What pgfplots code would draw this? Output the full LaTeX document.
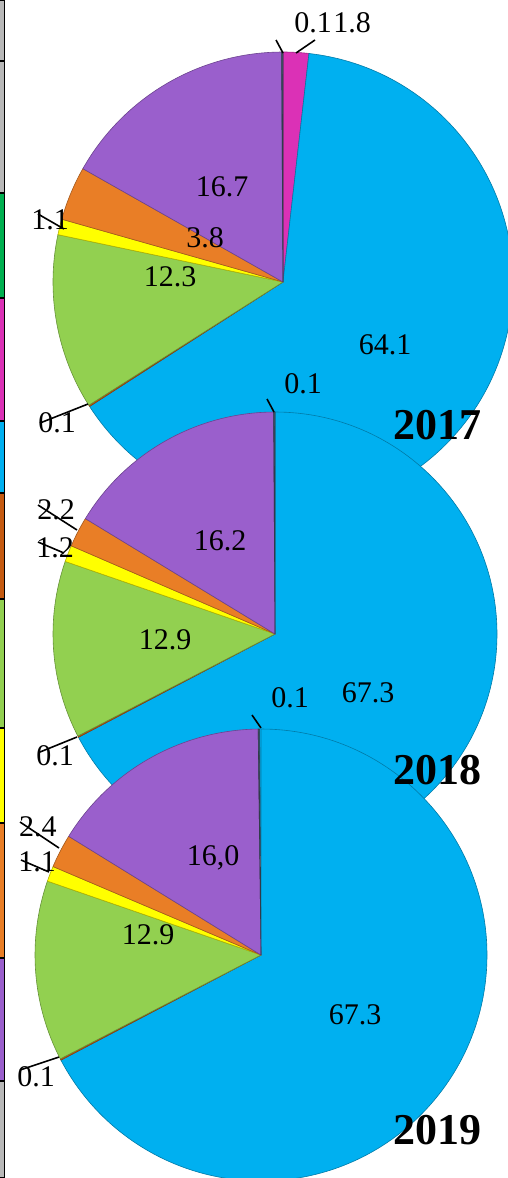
\documentclass[border=0pt]{standalone}
\usepackage{pgfplots}
\pgfplotsset{compat=1.18}
\usepackage{fontspec}
\setmainfont{Liberation Serif}
\definecolor{piecyan}{HTML}{00B0F0}
\definecolor{piegreen}{HTML}{92D050}
\definecolor{pieyellow}{HTML}{FFFF00}
\definecolor{pieorange}{HTML}{E97E26}
\definecolor{piepurple}{HTML}{9A5FCC}
\definecolor{piemagenta}{HTML}{DB31B6}
\definecolor{piebrown}{HTML}{C55A11}
\definecolor{pieslate}{HTML}{44546A}
\definecolor{stripgray}{HTML}{B8B8B8}
\definecolor{stripgreen}{HTML}{00B050}

\newcommand\drawpie[4]{%
  \gdef\cum{0}%
  \foreach \v/\c in {#4}{%
    \pgfmathsetmacro\a{90-3.6*\cum}%
    \pgfmathsetmacro\b{90-3.6*(\cum+\v)}%
    \edef\tmp{\noexpand\filldraw[fill=\c, draw=\c!70!black, line width=0.6pt, line join=round] (axis cs:#1,#2) -- ++(\a:#3pt) arc[start angle=\a, end angle=\b, radius=#3pt] -- cycle;}%
    \tmp
    \pgfmathsetmacro\newcum{\cum+\v}%
    \xdef\cum{\newcum}%
  }%
}
\newcommand\lbl{\fontsize{30}{34}\selectfont}
\newcommand\yr{\fontsize{44}{48}\selectfont\bfseries}
\tikzset{lead/.style={line width=1.6pt}}

\begin{document}
\begin{tikzpicture}
\useasboundingbox (0,0) rectangle (508pt,1178pt);
\fill[white] (0,0) rectangle (508pt,1178pt);
\begin{axis}[at={(0,0)}, anchor=south west, scale only axis,
  width=508pt, height=1178pt, xmin=0, xmax=508, ymin=0, ymax=1178,
  y dir=reverse, hide axis, clip=true]
% ---- 2017 ----
\drawpie{283}{282}{230}{1.8/piemagenta, 64.1/piecyan, 0.1/piebrown, 12.3/piegreen, 1.1/pieyellow, 3.8/pieorange, 16.7/piepurple, 0.1/pieslate}
\node[font=\lbl] at (axis cs:385,345) {64.1};
\node[font=\lbl] at (axis cs:170,277) {12.3};
\node[font=\lbl] at (axis cs:205,238) {3.8};
\node[font=\lbl] at (axis cs:222,187) {16.7};
\node[font=\lbl] at (axis cs:313,23) {0.1};
\node[font=\lbl] at (axis cs:352,23) {1.8};
\draw[lead] (axis cs:276,40) -- (axis cs:283,53);
\draw[lead] (axis cs:296,53) -- (axis cs:315,40);
\node[font=\lbl] at (axis cs:50,220) {1.1};
\draw[lead] (axis cs:38,214) -- (axis cs:64,229);
\node[font=\lbl] at (axis cs:57,423) {0.1};
\draw[lead] (axis cs:40,423) -- (axis cs:88,404);
% ---- 2018 ----
\drawpie{275}{634}{222}{67.3/piecyan, 0.1/piebrown, 12.9/piegreen, 1.2/pieyellow, 2.2/pieorange, 16.2/piepurple, 0.1/pieslate}
\node[font=\lbl] at (axis cs:368,693) {67.3};
\node[font=\lbl] at (axis cs:165,640) {12.9};
\node[font=\lbl] at (axis cs:220,541) {16.2};
\node[font=\lbl] at (axis cs:303,384) {0.1};
\draw[lead] (axis cs:267,399) -- (axis cs:274,412);
\node[font=\lbl] at (axis cs:56,510) {2.2};
\draw[lead] (axis cs:38,505) -- (axis cs:77,530);
\node[font=\lbl] at (axis cs:55,548) {1.2};
\draw[lead] (axis cs:38,542) -- (axis cs:64,553);
\node[font=\lbl] at (axis cs:55,756) {0.1};
\draw[lead] (axis cs:40,752) -- (axis cs:77,737);
% ---- 2019 ----
\drawpie{261}{955}{226}{67.3/piecyan, 0.1/piebrown, 12.9/piegreen, 1.1/pieyellow, 2.4/pieorange, 16.0/piepurple, 0.1/pieslate}
\node[font=\lbl] at (axis cs:355,1015) {67.3};
\node[font=\lbl] at (axis cs:148,935) {12.9};
\node[font=\lbl] at (axis cs:213,858) {16,0};
\node[font=\lbl] at (axis cs:290,698) {0.1};
\draw[lead] (axis cs:252,715) -- (axis cs:261,728);
\node[font=\lbl] at (axis cs:38,827) {2.4};
\draw[lead] (axis cs:20,822) -- (axis cs:59,848);
\node[font=\lbl] at (axis cs:37,862) {1.1};
\draw[lead] (axis cs:21,860) -- (axis cs:49,872);
\node[font=\lbl] at (axis cs:36,1077) {0.1};
\draw[lead] (axis cs:20,1070) -- (axis cs:59,1057);
% ---- years ----
\node[font=\yr] at (axis cs:437,425) {2017};
\node[font=\yr] at (axis cs:437,770) {2018};
\node[font=\yr] at (axis cs:437,1130) {2019};
\end{axis}
% ---- left strip ----
\begin{axis}[at={(0,0)}, anchor=south west, scale only axis,
  width=4pt, height=1178pt, xmin=0, xmax=1, ymin=0, ymax=1178,
  y dir=reverse, hide axis, ybar stacked, bar width=9pt, clip=false]
\addplot[fill=stripgray, draw=black, line width=1.6pt] coordinates {(0,61)};
\addplot[fill=stripgray, draw=black, line width=1.6pt] coordinates {(0,132)};
\addplot[fill=stripgreen, draw=black, line width=1.6pt] coordinates {(0,105)};
\addplot[fill=piemagenta, draw=black, line width=1.6pt] coordinates {(0,123)};
\addplot[fill=piecyan, draw=black, line width=1.6pt] coordinates {(0,72)};
\addplot[fill=piebrown, draw=black, line width=1.6pt] coordinates {(0,106)};
\addplot[fill=piegreen, draw=black, line width=1.6pt] coordinates {(0,129)};
\addplot[fill=pieyellow, draw=black, line width=1.6pt] coordinates {(0,95)};
\addplot[fill=pieorange, draw=black, line width=1.6pt] coordinates {(0,135)};
\addplot[fill=piepurple, draw=black, line width=1.6pt] coordinates {(0,123)};
\addplot[fill=stripgray, draw=black, line width=1.6pt] coordinates {(0,97)};
\end{axis}
\end{tikzpicture}
\end{document}
